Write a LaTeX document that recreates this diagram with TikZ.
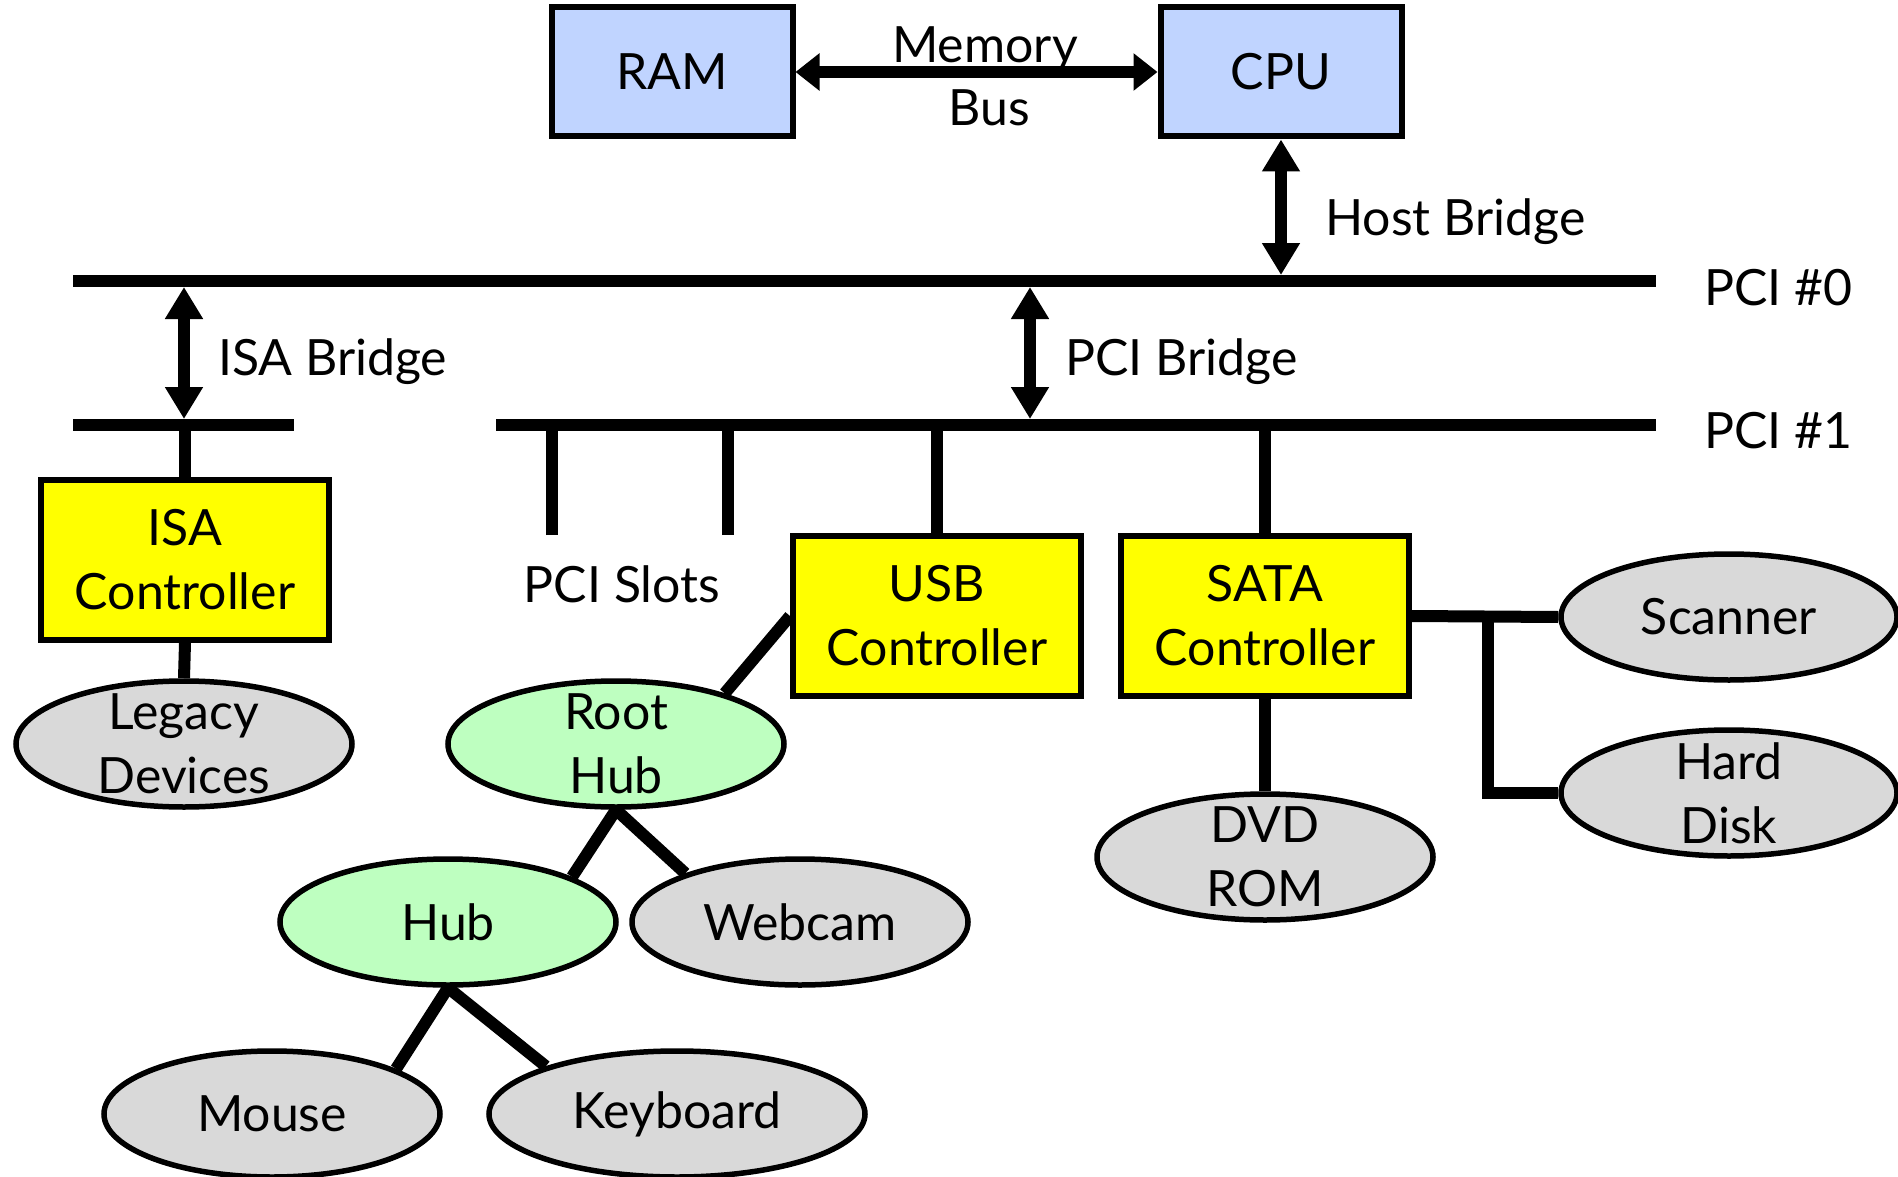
\documentclass[tikz,border=0pt]{standalone}
\usepackage{fontspec}
\setmainfont{Lato}
\usetikzlibrary{positioning,arrows.meta,shapes.geometric}
\definecolor{memblue}{RGB}{192,212,255}
\definecolor{ctrlyellow}{RGB}{255,255,0}
\definecolor{hubgreen}{RGB}{190,255,192}
\definecolor{devgray}{RGB}{217,217,217}
\tikzset{box/.style = {rectangle,draw,line width=6pt,inner sep=0pt,align=center},
         membox/.style = {box,fill=memblue,minimum width=241pt,minimum height=129pt},
         ctrl/.style = {box,fill=ctrlyellow,minimum width=288pt,minimum height=160pt},
         dev/.style = {ellipse,draw,line width=5.5pt,fill=devgray,inner xsep=0pt,inner ysep=-25pt,minimum width=336pt,minimum height=126pt,align=center},
         hubdev/.style = {dev,fill=hubgreen},
         bus/.style = {line width=12pt},
         link/.style = {line width=12pt},
         bridge/.style = {line width=12pt,{Triangle[length=32pt,width=36pt]}-{Triangle[length=32pt,width=36pt]}}}

\begin{document}
\begin{tikzpicture}[x=1pt,y=-1pt,font=\fontsize{50}{64}\selectfont]
            \useasboundingbox (0,0) rectangle (1898,1177);
            % buses
            \coordinate (pci0w) at (73,281);   \coordinate (pci0e) at (1656,281);
            \coordinate (pci1w) at (496,425);  \coordinate (pci1e) at (1656,425);
            \coordinate (isabw) at (73,425);   \coordinate (isabe) at (294,425);
            \draw[bus] (pci0w) -- (pci0e);
            \draw[bus] (pci1w) -- (pci1e);
            \draw[bus] (isabw) -- (isabe);
            % boxes
            \node[membox] (ram) at (672,72) {RAM};
            \node[membox] (cpu) at (1281,72) {CPU};
            \node[ctrl] (isa) at (185,560) {ISA\\Controller};
            \node[ctrl] (usb) at (937,616) {USB\\Controller};
            \node[ctrl] (sata) at (1265,616) {SATA\\Controller};
            % devices
            \node[dev] (legacy) at (184,744) {Legacy\\Devices};
            \node[hubdev] (roothub) at (616,744) {Root\\Hub};
            \node[hubdev] (hub) at (448,922) {Hub};
            \node[dev] (webcam) at (800,922) {Webcam};
            \node[dev] (mouse) at (272,1114) {Mouse};
            \node[dev,minimum width=376pt] (keyboard) at (677,1114) {Keyboard};
            \node[dev] (dvd) at (1265,857) {DVD\\ROM};
            \node[dev] (scanner) at (1729,617) {Scanner};
            \node[dev] (disk) at (1729,793) {Hard\\Disk};
            % bridges
            \coordinate (isa0) at (184,281);  \coordinate (isa1) at (184,425);
            \coordinate (pcb0) at (1030,281); \coordinate (pcb1) at (1030,425);
            \draw[bridge, {Triangle[length=24pt,width=36pt]}-{Triangle[length=24pt,width=36pt]}] (ram.east) -- (cpu.west);
            \draw[bridge, shorten >=6pt] (cpu.south) -- (cpu.south |- pci0w);
            \draw[bridge, shorten >=6pt, shorten <=6pt] (isa0) -- (isa1);
            \draw[bridge, shorten >=6pt, shorten <=6pt] (pcb0) -- (pcb1);
            % stubs and links
            \coordinate (slot1) at (552,535); \coordinate (slot2) at (728,535);
            \draw[link] (slot1) -- (slot1 |- pci1w);
            \draw[link] (slot2) -- (slot2 |- pci1w);
            \draw[link] (isa.north) -- (isa.north |- isabw);
            \draw[link] (usb.north) -- (usb.north |- pci1w);
            \draw[link] (sata.north) -- (sata.north |- pci1w);
            \draw[link] (isa.south) -- (legacy.north);
            \draw[link] (usb.west) -- (roothub.25);
            \draw[link] (roothub.south) -- (hub.20);
            \draw[link] (roothub.south) -- (webcam.157);
            \draw[link] (hub.south) -- (mouse.20);
            \draw[link] (hub.south) -- (keyboard.160);
            \draw[link] (sata.south) -- (dvd.north);
            \draw[link] (sata.east) -- (scanner.west);
            \coordinate (sjoin) at (1488,617);
            \draw[link] (sjoin) |- (disk.west);
            % labels
            \node[inner sep=0pt,anchor=base] (memlbl) at (985,63) {Memory};
            \node[inner sep=0pt,anchor=base] (buslbl) at (989,126) {Bus};
            \node[inner sep=0pt,anchor=base west] (hostlbl) at (1325,236) {Host Bridge};
            \node[inner sep=0pt,anchor=base west] (isalbl) at (218,375) {ISA Bridge};
            \node[inner sep=0pt,anchor=base west] (pcilbl) at (1065,375) {PCI Bridge};
            \node[inner sep=0pt,anchor=base west] (pci0lbl) at (1704,305) {PCI \#0};
            \node[inner sep=0pt,anchor=base west] (pci1lbl) at (1704,448) {PCI \#1};
            \node[inner sep=0pt,anchor=base] (slotlbl) at (622,602) {PCI Slots};
\end{tikzpicture}
\end{document}
